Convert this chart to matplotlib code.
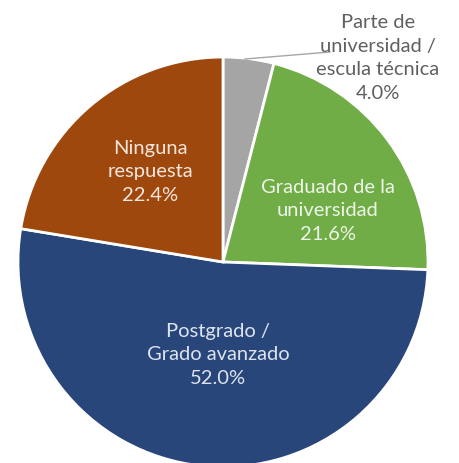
import matplotlib.pyplot as plt

# education level shares (percent)
categories = ["Parte de\nuniversidad /\nescula técnica", "Graduado de la\nuniversidad",
              "Postgrado /\nGrado avanzado", "Ninguna\nrespuesta"]
values = [4.0, 21.6, 52.0, 22.4]
colors = ["#a5a5a5", "#70ad47", "#284679", "#9e480e"]

plt.rcParams['font.family'] = ['Lato', 'DejaVu Sans']

fig = plt.figure(figsize=(4.6, 4.63), dpi=100)
ax = fig.add_axes([0, 0, 1, 1])

ax.pie(values, colors=colors, startangle=90, counterclock=False,
       center=(223, 201), radius=205,
       wedgeprops=dict(edgecolor="white", linewidth=2))
ax.set_xlim(0, 460)
ax.set_ylim(0, 463)
ax.set_aspect("equal")
ax.axis("off")

# label block centres in pixel space (y measured from top)
label_pos = [(378, 58), (328, 211), (218, 355), (150, 172)]
text_cols = ["#606060", "#eef5e8", "#dde4f0", "#f7e6da"]
for cat, v, (x, y), c in zip(categories, values, label_pos, text_cols):
    ax.text(x, 463 - y, f"{cat}\n{v:.1f}%", ha="center", va="center",
            fontsize=14.5, color=c, linespacing=1.48)

# leader line for the small slice
ax.plot([245, 330], [463 - 59, 463 - 52], color="#a6a6a6", lw=1)

fig.savefig("out.png", dpi=100)
